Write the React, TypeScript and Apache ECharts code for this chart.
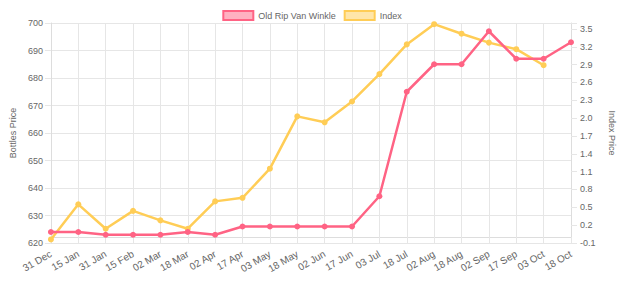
import React, { useEffect, useRef } from "react";
import * as echarts from "echarts";

const categories = [
  "31 Dec", "15 Jan", "31 Jan", "15 Feb", "02 Mar", "18 Mar", "02 Apr", "17 Apr", "03 May", "18 May",
  "02 Jun", "17 Jun", "03 Jul", "18 Jul", "02 Aug", "18 Aug", "02 Sep", "17 Sep", "03 Oct", "18 Oct",
];
const bottlesPrice = [
  624, 624, 623, 623, 623, 624, 623, 626, 626, 626,
  626, 626, 637, 675, 685, 685, 697, 687, 687, 693,
];
const indexPrice: (number | null)[] = [
  -0.04, 0.55, 0.14, 0.44, 0.28, 0.14, 0.6, 0.66, 1.15, 2.03,
  1.93, 2.28, 2.74, 3.24, 3.58, 3.42, 3.27, 3.16, 2.89, null,
];
const seriesNames = ["Old Rip Van Winkle", "Index"];

const FONT = "'Liberation Sans', Arial, Helvetica, sans-serif";
const RED = "#ff6384";
const YELLOW = "#ffcd56";
const GRID = "#e6e6e6";
const TXT = "#666666";

export default function App() {
  const ref = useRef<HTMLDivElement>(null);
  useEffect(() => {
    if (!ref.current) return;
    const chart = echarts.init(ref.current, undefined, { renderer: "svg" });
    chart.setOption({
      animation: false,
      textStyle: { fontFamily: FONT },
      legend: {
        top: 5,
        left: "center",
        icon: "rect",
        itemWidth: 30,
        itemHeight: 9,
        itemGap: 8,
        textStyle: { color: TXT, fontSize: 9, fontFamily: FONT },
        data: [
          { name: seriesNames[0], itemStyle: { color: "rgba(255,99,132,0.5)", borderColor: RED, borderWidth: 2 } },
          { name: seriesNames[1], itemStyle: { color: "rgba(255,205,86,0.5)", borderColor: YELLOW, borderWidth: 2 } },
        ],
      },
      grid: { left: 44, right: 51, top: 23, bottom: 41, containLabel: false },
      xAxis: {
        type: "category",
        data: categories,
        boundaryGap: false,
        axisLine: { show: true, lineStyle: { color: "#dddddd" } },
        axisTick: { show: true, length: 6, lineStyle: { color: GRID } },
        splitLine: { show: true, lineStyle: { color: GRID } },
        axisLabel: { rotate: 30, color: TXT, fontSize: 10, fontFamily: FONT, margin: 10, interval: 0 },
      },
      yAxis: [
        {
          type: "value",
          min: 620,
          max: 700,
          interval: 10,
          name: "Bottles Price",
          nameLocation: "middle",
          nameRotate: 90,
          nameGap: 31,
          nameTextStyle: { color: TXT, fontSize: 9, fontFamily: FONT },
          axisLine: { show: true, lineStyle: { color: "#dddddd" } },
          axisTick: { show: true, length: 6, lineStyle: { color: GRID } },
          splitLine: { show: true, lineStyle: { color: GRID } },
          axisLabel: { color: TXT, fontSize: 9, fontFamily: FONT, margin: 8 },
        },
        {
          type: "value",
          min: -0.1,
          max: 3.6,
          interval: 0.3,
          name: "Index Price",
          nameLocation: "middle",
          nameRotate: -90,
          nameGap: 36,
          nameTextStyle: { color: TXT, fontSize: 9, fontFamily: FONT },
          axisLine: { show: true, lineStyle: { color: "#dddddd" } },
          axisTick: { show: true, length: 6, lineStyle: { color: GRID } },
          splitLine: { show: false },
          axisLabel: {
            color: TXT,
            fontSize: 9,
            fontFamily: FONT,
            margin: 9,
            formatter: (v: number) => (v > 3.55 ? "" : v.toFixed(1)),
          },
        },
      ],
      series: [
        {
          name: seriesNames[0],
          type: "line",
          yAxisIndex: 0,
          data: bottlesPrice,
          symbol: "circle",
          symbolSize: 6,
          lineStyle: { color: RED, width: 2.5 },
          itemStyle: { color: RED },
          z: 3,
        },
        {
          name: seriesNames[1],
          type: "line",
          yAxisIndex: 1,
          data: indexPrice,
          symbol: "circle",
          symbolSize: 6,
          lineStyle: { color: YELLOW, width: 2.5 },
          itemStyle: { color: YELLOW },
          z: 2,
        },
      ],
    });
    return () => chart.dispose();
  }, []);
  return <div ref={ref} style={{ width: 624, height: 284, position: "absolute", left: 0, top: 0 }} />;
}
